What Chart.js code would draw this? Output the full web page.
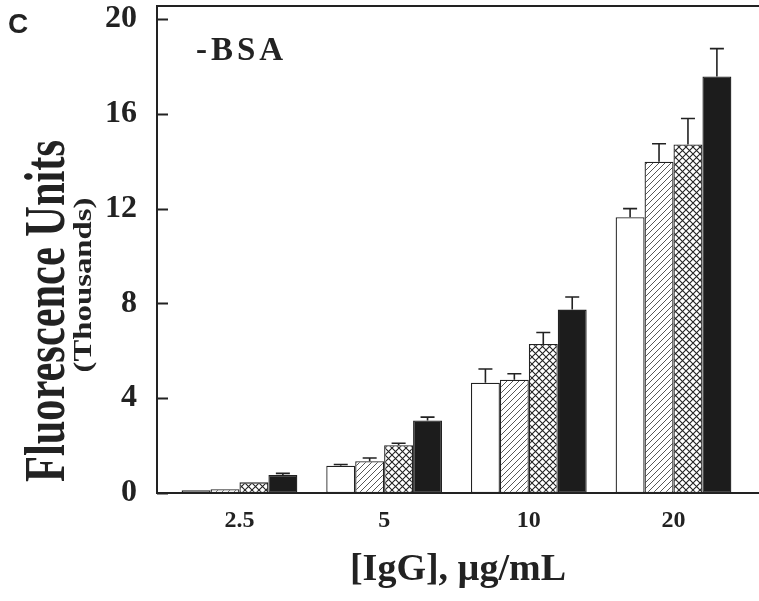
<!DOCTYPE html>
<html lang="en">
<head>
    <meta charset="UTF-8">
    <title>Fluorescence vs IgG</title>
    <script src="https://cdn.jsdelivr.net/npm/chart.js"></script>
    <style>
        body { margin: 0; background: #fff; }
        canvas { display: block; }
    </style>
</head>
<body>
    <canvas id="igChart" width="759" height="601"></canvas>

    <script>
        // data (thousands of fluorescence units)
        const categories = ['2.5', '5', '10', '20'];
        const seriesA = [0.12, 1.15, 4.65, 11.64];
        const seriesB = [0.16, 1.34, 4.78, 13.98];
        const seriesC = [0.45, 2.02, 6.29, 14.71];
        const seriesD = [0.76, 3.06, 7.74, 17.58];
        const errA = [0, 0.05, 0.58, 0.36];
        const errB = [0, 0.14, 0.25, 0.76];
        const errC = [0, 0.08, 0.48, 1.09];
        const errD = [0.07, 0.14, 0.53, 1.17];
        const yTicks = [0, 4, 8, 12, 16, 20];

        const ink = '#222';
        const serif = "'Liberation Serif', 'Times New Roman', serif";

        // fill patterns
        function hatchPattern() {
            const c = document.createElement('canvas');
            c.width = 6; c.height = 6;
            const g = c.getContext('2d');
            g.fillStyle = '#fff';
            g.fillRect(0, 0, 6, 6);
            g.strokeStyle = '#444';
            g.lineWidth = 0.9;
            g.beginPath();
            g.moveTo(-1, 7); g.lineTo(7, -1);
            g.moveTo(-1, 1); g.lineTo(1, -1);
            g.moveTo(5, 7); g.lineTo(7, 5);
            g.stroke();
            return g.createPattern(c, 'repeat');
        }
        function crossPattern() {
            const c = document.createElement('canvas');
            c.width = 7; c.height = 7;
            const g = c.getContext('2d');
            g.fillStyle = '#fff';
            g.fillRect(0, 0, 7, 7);
            g.strokeStyle = '#222';
            g.lineWidth = 1.1;
            g.beginPath();
            g.moveTo(0, 0); g.lineTo(7, 7);
            g.moveTo(0, 7); g.lineTo(7, 0);
            g.stroke();
            return g.createPattern(c, 'repeat');
        }

        const toPoints = arr => arr.map((v, i) => ({ x: i + 1, y: v }));
        const errors = [errA, errB, errC, errD];

        // upper error bars with caps
        const errorBars = {
            id: 'errorBars',
            afterDatasetsDraw(chart) {
                const ctx = chart.ctx;
                const y = chart.scales.y;
                ctx.save();
                ctx.strokeStyle = ink;
                ctx.lineWidth = 1.6;
                chart.data.datasets.forEach((ds, d) => {
                    const meta = chart.getDatasetMeta(d);
                    meta.data.forEach((bar, i) => {
                        const e = errors[d][i];
                        if (!e) return;
                        const top = y.getPixelForValue(ds.data[i].y + e);
                        ctx.beginPath();
                        ctx.moveTo(bar.x, bar.y);
                        ctx.lineTo(bar.x, top);
                        ctx.moveTo(bar.x - 7, top);
                        ctx.lineTo(bar.x + 7, top);
                        ctx.stroke();
                    });
                });
                ctx.restore();
            }
        };

        // frame top, inward ticks, titles and labels
        const decorations = {
            id: 'decorations',
            afterDraw(chart) {
                const ctx = chart.ctx;
                const area = chart.chartArea;
                const y = chart.scales.y;
                ctx.save();
                ctx.strokeStyle = ink;
                ctx.lineWidth = 2;
                ctx.beginPath();
                ctx.moveTo(area.left - 1, area.top);
                ctx.lineTo(area.right, area.top);
                yTicks.forEach(t => {
                    const py = Math.round(y.getPixelForValue(t)) + 0.5;
                    ctx.moveTo(area.left, py);
                    ctx.lineTo(area.left + 11, py);
                });
                ctx.stroke();

                ctx.fillStyle = ink;
                ctx.textBaseline = 'alphabetic';

                ctx.font = "bold 28px 'Liberation Sans', Arial, sans-serif";
                ctx.textAlign = 'left';
                ctx.fillText('C', 8, 33);

                ctx.font = 'bold 33px ' + serif;
                ctx.letterSpacing = '4px';
                ctx.fillText('-BSA', 196, 60);
                ctx.letterSpacing = '0px';

                ctx.font = 'bold 38px ' + serif;
                ctx.textAlign = 'center';
                ctx.fillText('[IgG], \u00b5g/mL', (area.left + area.right) / 2, 580);

                // y titles, rotated
                ctx.save();
                ctx.translate(64, 311);
                ctx.rotate(-Math.PI / 2);
                ctx.font = 'bold 56px ' + serif;
                const w1 = ctx.measureText('Fluorescence Units').width;
                ctx.scale(342 / w1, 1);
                ctx.fillText('Fluorescence Units', 0, 0);
                ctx.restore();

                ctx.save();
                ctx.translate(91, 285);
                ctx.rotate(-Math.PI / 2);
                ctx.font = 'bold 25px ' + serif;
                const w2 = ctx.measureText('(Thousands)').width;
                ctx.scale(175 / w2, 1);
                ctx.fillText('(Thousands)', 0, 0);
                ctx.restore();

                ctx.restore();
            }
        };

        const ctx = document.getElementById('igChart').getContext('2d');
        const barBorder = { borderColor: ink, borderWidth: 1.3, borderSkipped: false };

        new Chart(ctx, {
            type: 'bar',
            data: {
                datasets: [
                    { label: 'A', data: toPoints(seriesA), backgroundColor: '#fff', ...barBorder },
                    { label: 'B', data: toPoints(seriesB), backgroundColor: hatchPattern(), ...barBorder },
                    { label: 'C', data: toPoints(seriesC), backgroundColor: crossPattern(), ...barBorder },
                    { label: 'D', data: toPoints(seriesD), backgroundColor: '#1c1c1c', ...barBorder }
                ]
            },
            options: {
                responsive: false,
                animation: false,
                layout: { padding: { top: 6, left: 0, right: 0, bottom: 0 } },
                datasets: { bar: { categoryPercentage: 0.8, barPercentage: 1.0 } },
                plugins: { legend: { display: false }, tooltip: { enabled: false } },
                scales: {
                    x: {
                        type: 'linear',
                        offset: false,
                        min: 0.43,
                        max: 4.591,
                        afterBuildTicks: s => { s.ticks = categories.map((c, i) => ({ value: i + 1 })); },
                        afterFit: s => { s.height = 108; s.paddingLeft = 0; s.paddingRight = 0; },
                        grid: { display: false, drawTicks: false },
                        border: { color: ink, width: 2 },
                        ticks: {
                            padding: 13,
                            color: ink,
                            font: { family: serif, size: 24, weight: 'bold' },
                            callback: v => categories[v - 1]
                        }
                    },
                    y: {
                        min: 0,
                        max: 20.55,
                        afterBuildTicks: s => { s.ticks = yTicks.map(v => ({ value: v })); },
                        afterFit: s => { s.width = 157; s.paddingTop = 0; s.paddingBottom = 0; },
                        grid: { display: false, drawTicks: false },
                        border: { color: ink, width: 2 },
                        ticks: {
                            padding: 20,
                            color: ink,
                            font: { family: serif, size: 32, weight: 'bold' }
                        }
                    }
                }
            },
            plugins: [errorBars, decorations]
        });
    </script>
</body>
</html>
